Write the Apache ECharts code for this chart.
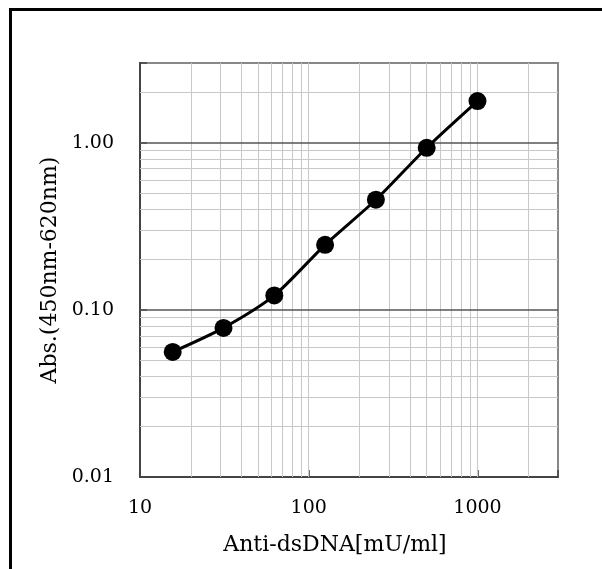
<!DOCTYPE html>
<html>
<head>
<meta charset="utf-8">
<style>
html,body{margin:0;padding:0;background:#fff;}
#chart{width:602px;height:569px;}
</style>
<script src="https://cdn.jsdelivr.net/npm/echarts@6/dist/echarts.min.js"></script>
</head>
<body>
<div id="chart"></div>
<script>
// Data
var concentrations = [15.625, 31.25, 62.5, 125, 250, 500, 1000];
var absorbance = [0.056, 0.078, 0.122, 0.245, 0.456, 0.933, 1.775];
var xMajorTicks = [10, 100, 1000];
var yMajorTicks = [0.01, 0.1, 1];
var xGridLines = [20, 30, 40, 50, 60, 70, 80, 90, 100, 200, 300, 400, 500, 600, 700, 800, 900, 1000, 2000];
var yMinorGridLines = [0.02, 0.03, 0.04, 0.05, 0.06, 0.07, 0.08, 0.09, 0.2, 0.3, 0.4, 0.5, 0.6, 0.7, 0.8, 0.9, 2];
var yMajorGridLines = [0.1, 1];

var FONT = 'DejaVu Serif';
function isPow10(v){ var l = Math.log10(v); return Math.abs(l - Math.round(l)) < 1e-6; }

var chart = echarts.init(document.getElementById('chart'), null, {renderer:'canvas'});
var points = concentrations.map(function(x,i){ return [x, absorbance[i]]; });

chart.setOption({
  animation: false,
  backgroundColor: '#fff',
  graphic: [{
    type: 'rect',
    shape: {x: 10.5, y: 9.5, width: 700, height: 700},
    style: {fill: 'none', stroke: '#000', lineWidth: 3},
    z: 100
  }],
  grid: {left: 140, top: 63, right: 44, bottom: 92, show: true, borderColor: '#888', borderWidth: 2, backgroundColor: 'transparent'},
  xAxis: {
    type: 'log', logBase: 10, min: 10, max: 3000,
    name: 'Anti-dsDNA[mU/ml]', nameLocation: 'middle', nameGap: 57,
    nameTextStyle: {fontFamily: FONT, fontSize: 22, color: '#000', padding: [0, 28, 0, 0]},
    axisLine: {show: true, lineStyle: {color: '#444', width: 2}},
    axisTick: {show: true, inside: true, length: 7, lineStyle: {color: '#444', width: 1.5}},
    axisLabel: {fontFamily: FONT, fontSize: 19, color: '#000', margin: 22,
      formatter: function(v){ return isPow10(v) ? String(Math.round(v)) : ''; }},
    splitLine: {show: false}
  },
  yAxis: {
    type: 'log', logBase: 10, min: 0.01, max: 3,
    name: 'Abs.(450nm-620nm)', nameLocation: 'middle', nameGap: 68,
    nameTextStyle: {fontFamily: FONT, fontSize: 22, color: '#000', padding: [0, 0, 0, 0]},
    axisLine: {show: true, lineStyle: {color: '#444', width: 2}},
    axisTick: {show: true, inside: true, length: 7, lineStyle: {color: '#444', width: 1.5}},
    axisLabel: {fontFamily: FONT, fontSize: 19, color: '#000', margin: 26,
      formatter: function(v){ return isPow10(v) ? v.toFixed(2) : ''; }},
    splitLine: {show: false}
  },
  series: [
    {
      type: 'line', z: 1, data: [], silent: true,
      markLine: {
        silent: true, symbol: 'none', animation: false,
        label: {show: false},
        lineStyle: {color: '#c8c8c8', width: 1, type: 'solid'},
        emphasis: {disabled: true},
        data: xGridLines.map(function(v){ return {xAxis: v}; })
          .concat(yMinorGridLines.map(function(v){ return {yAxis: v}; }))
      }
    },
    {
      type: 'line', z: 2, data: [], silent: true,
      markLine: {
        silent: true, symbol: 'none', animation: false,
        label: {show: false},
        lineStyle: {color: '#555', width: 1.5, type: 'solid'},
        emphasis: {disabled: true},
        data: yMajorGridLines.map(function(v){ return {yAxis: v}; })
      }
    },
    {
      type: 'line', z: 5, data: points, smooth: 0.25,
      symbol: 'circle', symbolSize: 18,
      itemStyle: {color: '#000'},
      lineStyle: {color: '#000', width: 3}
    }
  ]
});
</script>
</body>
</html>
